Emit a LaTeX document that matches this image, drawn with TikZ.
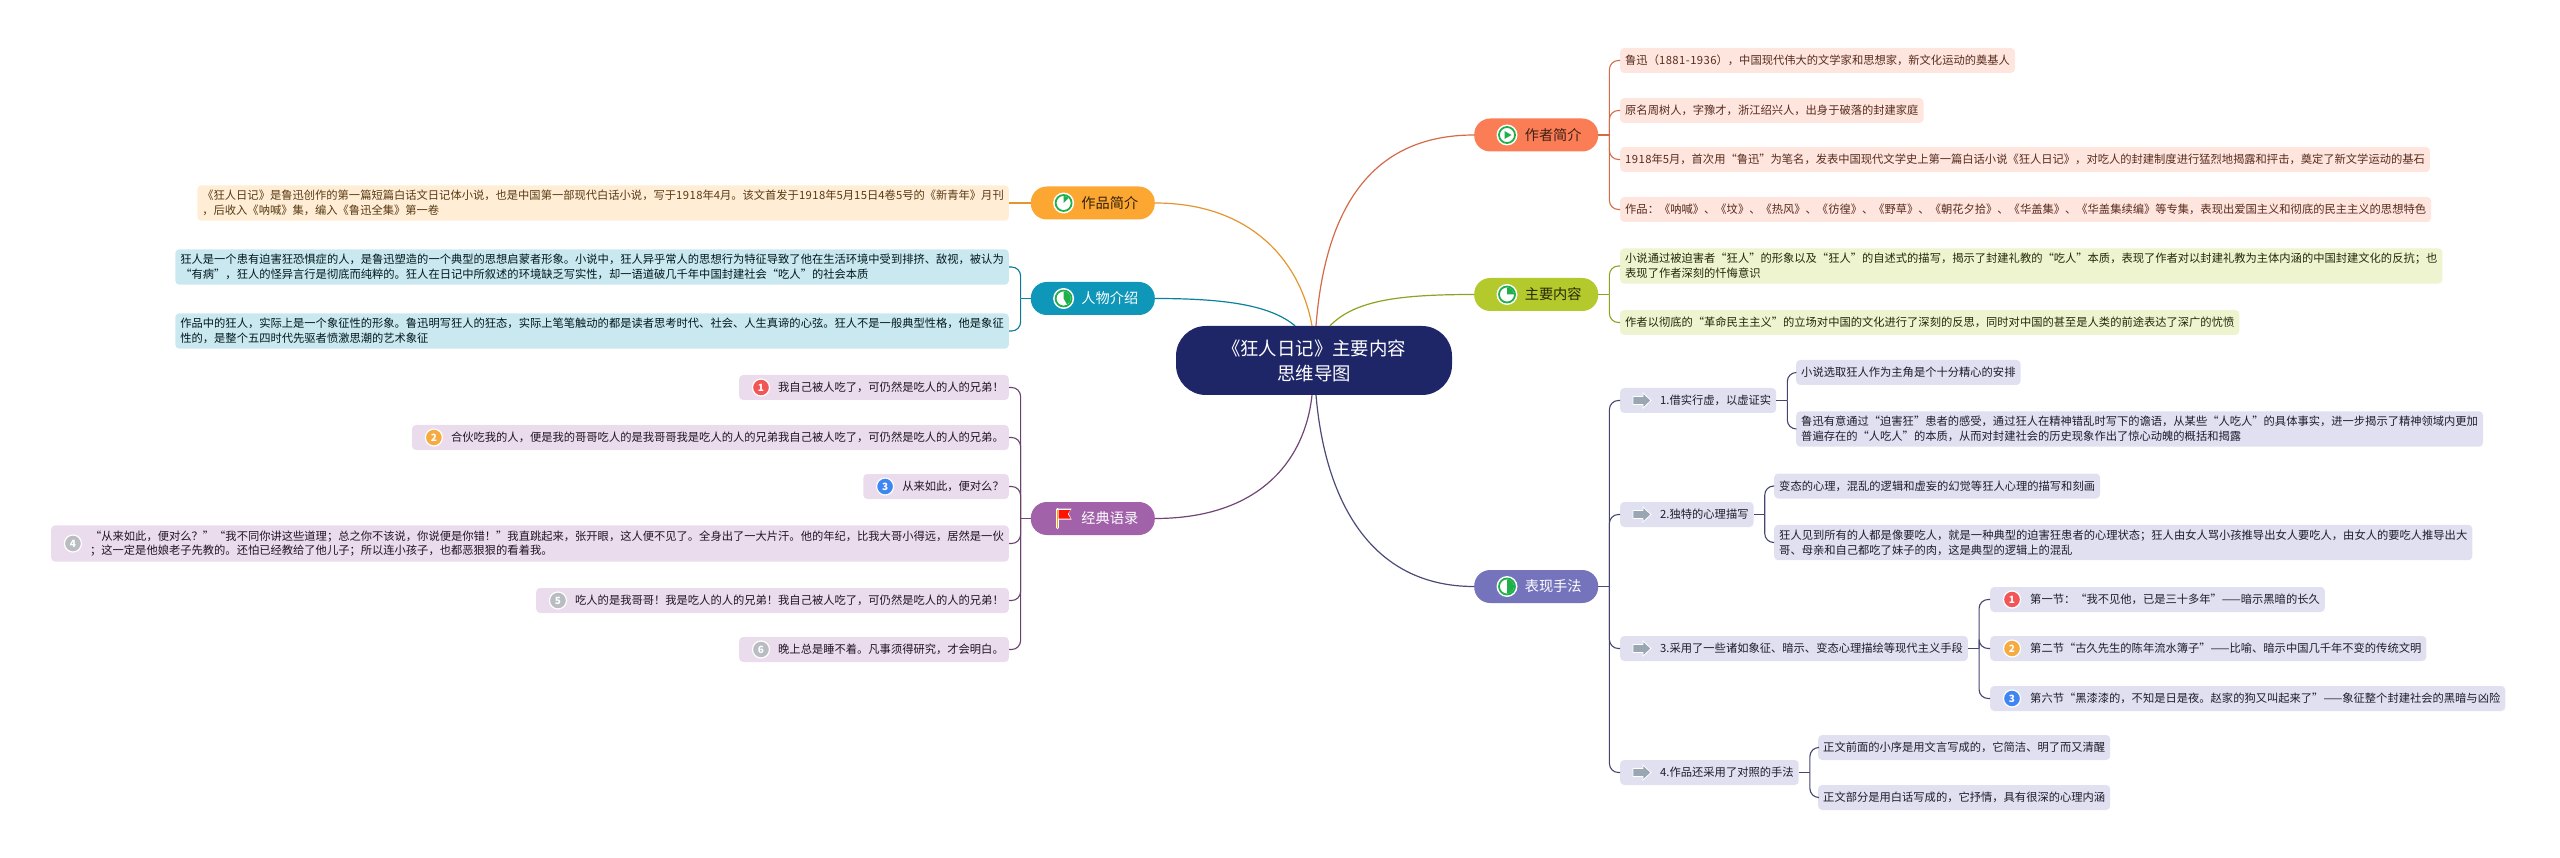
\documentclass[tikz,border=0pt]{standalone}
\usepackage{fontspec}
\setmainfont{Noto Sans CJK SC}
\newfontfamily\numfont[LetterSpace=4]{Noto Sans CJK SC}
\newcommand{\nm}[1]{{\numfont #1}}
\usepackage{xcolor}
\usepackage{tikz}
\usetikzlibrary{positioning}

\definecolor{rootblue}{HTML}{1F2668}
\definecolor{authorc}{HTML}{FB7D55}
\definecolor{contentc}{HTML}{B4C92B}
\definecolor{methodc}{HTML}{7473BB}
\definecolor{workc}{HTML}{FDA733}
\definecolor{personc}{HTML}{0F97B9}
\definecolor{quotec}{HTML}{A162A9}
\definecolor{taskgreen}{HTML}{1FAF4B}
\definecolor{pointerc}{HTML}{9AA6B1}
\definecolor{badgered}{HTML}{F25555}
\definecolor{badgeorange}{HTML}{F5AB42}
\definecolor{badgeblue}{HTML}{3F86F2}
\definecolor{badgegrey}{HTML}{B9BDC1}

\tikzset{
  pics/taskpie/.style={code={
    \begin{scope}[x=1pt,y=1pt]
      \fill[white] (0,0) circle (10.5);
      \draw[taskgreen,line width=1.8pt] (0,0) circle (8);
      \fill[taskgreen] (0,0) -- (0,7) arc (90:#1:7) -- cycle;
    \end{scope}
  }},
  pics/taskplay/.style={code={
    \begin{scope}[x=1pt,y=1pt]
      \fill[white] (0,0) circle (10.5);
      \draw[taskgreen,line width=1.8pt] (0,0) circle (8);
      \fill[taskgreen] (-2.5,4) -- (4.5,0) -- (-2.5,-4) -- cycle;
    \end{scope}
  }},
  pics/flagicon/.style={code={
    \begin{scope}[x=1pt,y=1pt]
      \draw[white,line width=3.5pt,line cap=round] (-6,9) -- (-6,-9);
      \fill[white] (-6,10) -- (8,10) -- (5,5) -- (8,-1) -- (-6,-1) -- cycle;
      \draw[orange!70!yellow,line width=1.4pt] (-6,9) -- (-6,-9);
      \fill[red!85!orange] (-5,8.5) -- (7,8.5) -- (4,4.5) -- (7,0) -- (-5,0) -- cycle;
    \end{scope}
  }},
  pics/pointer/.style={code={
    \begin{scope}[x=1pt,y=1pt]
      \filldraw[fill=pointerc,draw=white,line width=0.8pt] (-9,-4) -- (1,-4) -- (1,-7.5) -- (9,0) -- (1,7.5) -- (1,4) -- (-9,4) -- cycle;
    \end{scope}
  }}
}

\begin{document}
\begin{tikzpicture}[
    x=1pt,y=-1pt,
    root/.style={
      fill=rootblue, rounded corners=30pt, text=white, align=center,
      minimum width=276pt, minimum height=69pt, inner sep=0pt,
      font=\fontsize{18.4}{25}\selectfont
    },
    branch/.style={
      rounded corners=16pt, minimum width=124pt, minimum height=33pt, inner sep=0pt,
      font=\fontsize{14.2}{17}\selectfont
    },
    leaf/.style={
      rounded corners=4pt, minimum height=25pt, inner xsep=5pt, inner ysep=5pt,
      align=left, font=\fontsize{11.28}{14.7}\selectfont
    },
    authorleaf/.style={leaf, fill=authorc!20, text=authorc!35!black},
    contentleaf/.style={leaf, fill=contentc!22, text=contentc!20!black},
    methodleaf/.style={leaf, fill=methodc!22, text=methodc!25!black},
    workleaf/.style={leaf, fill=workc!20, text=workc!35!black},
    personleaf/.style={leaf, fill=personc!22, text=personc!15!black},
    quoteleaf/.style={leaf, fill=quotec!22, text=quotec!20!black},
    badge/.style={
      circle, draw=white, line width=1.2pt, minimum size=17pt, inner sep=0pt,
      text=white, font=\fontsize{10}{10}\selectfont\bfseries
    },
    link/.style={line width=1.2pt},
    fork/.style={line width=1.1pt, rounded corners=9pt}
]

  \useasboundingbox (0,0) rectangle (2560,858);

  % Define the centre
  \node[root] (center) at (1314,360.5) {《狂人日记》主要内容\\思维导图};

  % Main branches
  \node[branch, fill=authorc, text=black!75!authorc, anchor=west] (author) at (1474,135) {\hspace*{34pt}作者简介};
  \node[branch, fill=contentc, text=black!80!contentc, anchor=west] (content) at (1474,294.5) {\hspace*{34pt}主要内容};
  \node[branch, fill=methodc, text=white, anchor=west] (method) at (1474,586.5) {\hspace*{34pt}表现手法};
  \node[branch, fill=workc, text=black!80!workc, anchor=east] (work) at (1155,203) {\hspace*{34pt}作品简介};
  \node[branch, fill=personc, text=white, anchor=east] (person) at (1155,298.5) {\hspace*{34pt}人物介绍};
  \node[branch, fill=quotec, text=white, anchor=east] (quote) at (1155,518.5) {\hspace*{34pt}经典语录};

  % Branch icons
  \pic at ([xshift=33pt]author.west) {taskplay};
  \pic at ([xshift=33pt]content.west) {taskpie=0};
  \pic at ([xshift=33pt]method.west) {taskpie=-90};
  \pic at ([xshift=33pt]work.west) {taskpie=45};
  \pic at ([xshift=33pt]person.west) {taskpie=-60};
  \pic at ([xshift=33pt]quote.west) {flagicon};

  % Author leaves
  \node[authorleaf, anchor=west] (a1) at (1620,60.5) {鲁迅（\nm{1881-1936}），中国现代伟大的文学家和思想家，新文化运动的奠基人};
  \node[authorleaf, anchor=west] (a2) at (1620,110.5) {原名周树人，字豫才，浙江绍兴人，出身于破落的封建家庭};
  \node[authorleaf, anchor=west] (a3) at (1620,159.5) {\nm{1918}年\nm{5}月，首次用“鲁迅”为笔名，发表中国现代文学史上第一篇白话小说《狂人日记》，对吃人的封建制度进行猛烈地揭露和抨击，奠定了新文学运动的基石};
  \node[authorleaf, anchor=west] (a4) at (1620,209.5) {作品：《呐喊》、《坟》、《热风》、《彷徨》、《野草》、《朝花夕拾》、《华盖集》、《华盖集续编》等专集，表现出爱国主义和彻底的民主主义的思想特色};

  % Content leaves
  \node[contentleaf, anchor=west] (b1) at (1620,266) {小说通过被迫害者“狂人”的形象以及“狂人”的自述式的描写，揭示了封建礼教的“吃人”本质，表现了作者对以封建礼教为主体内涵的中国封建文化的反抗；也\\表现了作者深刻的忏悔意识};
  \node[contentleaf, anchor=west] (b2) at (1620,322.5) {作者以彻底的“革命民主主义”的立场对中国的文化进行了深刻的反思，同时对中国的甚至是人类的前途表达了深广的忧愤};

  % Method items
  \node[methodleaf, anchor=west] (c1) at (1620,400.5) {\hspace*{35pt}1.借实行虚，以虚证实};
  \node[methodleaf, anchor=west] (c2) at (1620,514.5) {\hspace*{35pt}2.独特的心理描写};
  \node[methodleaf, anchor=west] (c3) at (1620,648.5) {\hspace*{35pt}3.采用了一些诸如象征、暗示、变态心理描绘等现代主义手段};
  \node[methodleaf, anchor=west] (c4) at (1620,772.5) {\hspace*{35pt}4.作品还采用了对照的手法};

  \foreach \i in {1,2,3,4}
  \pic at ([xshift=22pt]c\i.west) {pointer};

  % Method leaves
  \node[methodleaf, anchor=west] (c1a) at (1796,372.5) {小说选取狂人作为主角是个十分精心的安排};
  \node[methodleaf, anchor=west] (c1b) at (1796,429) {鲁迅有意通过“迫害狂”患者的感受，通过狂人在精神错乱时写下的谵语，从某些“人吃人”的具体事实，进一步揭示了精神领域内更加\\普遍存在的“人吃人”的本质，从而对封建社会的历史现象作出了惊心动魄的概括和揭露};
  \node[methodleaf, anchor=west] (c2a) at (1774,486) {变态的心理，混乱的逻辑和虚妄的幻觉等狂人心理的描写和刻画};
  \node[methodleaf, anchor=west] (c2b) at (1774,542.5) {狂人见到所有的人都是像要吃人，就是一种典型的迫害狂患者的心理状态；狂人由女人骂小孩推导出女人要吃人，由女人的要吃人推导出大\\哥、母亲和自己都吃了妹子的肉，这是典型的逻辑上的混乱};
  \node[methodleaf, anchor=west] (c3a) at (1990,599.5) {\hspace*{35pt}第一节：“我不见他，已是三十多年”——暗示黑暗的长久};
  \node[methodleaf, anchor=west] (c3b) at (1990,648.5) {\hspace*{35pt}第二节“古久先生的陈年流水簿子”——比喻、暗示中国几千年不变的传统文明};
  \node[methodleaf, anchor=west] (c3c) at (1990,698.5) {\hspace*{35pt}第六节“黑漆漆的，不知是日是夜。赵家的狗又叫起来了”——象征整个封建社会的黑暗与凶险};
  \node[methodleaf, anchor=west] (c4a) at (1818,747.5) {正文前面的小序是用文言写成的，它简洁、明了而又清醒};
  \node[methodleaf, anchor=west] (c4b) at (1818,797.5) {正文部分是用白话写成的，它抒情，具有很深的心理内涵};

  \foreach \i/\c [count=\j] in {a/badgered,b/badgeorange,c/badgeblue}
  \node[badge, fill=\c] (num3\i) at ([xshift=22pt]c3\i.west) {\j};

  % Work and person leaves
  \node[workleaf, anchor=east] (d1) at (1009,203) {《狂人日记》是鲁迅创作的第一篇短篇白话文日记体小说，也是中国第一部现代白话小说，写于\nm{1918}年\nm{4}月。该文首发于\nm{1918}年\nm{5}月\nm{15}日\nm{4}卷\nm{5}号的《新青年》月刊\\，后收入《呐喊》集，编入《鲁迅全集》第一卷};
  \node[personleaf, anchor=east] (e1) at (1009,267) {狂人是一个患有迫害狂恐惧症的人，是鲁迅塑造的一个典型的思想启蒙者形象。小说中，狂人异乎常人的思想行为特征导致了他在生活环境中受到排挤、敌视，被认为\\“有病”，狂人的怪异言行是彻底而纯粹的。狂人在日记中所叙述的环境缺乏写实性，却一语道破几千年中国封建社会“吃人”的社会本质};
  \node[personleaf, anchor=east] (e2) at (1009,331) {作品中的狂人，实际上是一个象征性的形象。鲁迅明写狂人的狂态，实际上笔笔触动的都是读者思考时代、社会、人生真谛的心弦。狂人不是一般典型性格，他是象征\\性的，是整个五四时代先驱者愤激思潮的艺术象征};

  % Quote leaves
  \node[quoteleaf, anchor=east] (f1) at (1009,387.5) {\hspace*{34pt}我自己被人吃了，可仍然是吃人的人的兄弟！};
  \node[quoteleaf, anchor=east] (f2) at (1009,437.5) {\hspace*{34pt}合伙吃我的人，便是我的哥哥吃人的是我哥哥我是吃人的人的兄弟我自己被人吃了，可仍然是吃人的人的兄弟。};
  \node[quoteleaf, anchor=east] (f3) at (1009,486.5) {\hspace*{34pt}从来如此，便对么？};
  \node[quoteleaf, anchor=east] (f4) at (1009,543.5) {\hspace*{34pt}“从来如此，便对么？”“我不同你讲这些道理；总之你不该说，你说便是你错！”我直跳起来，张开眼，这人便不见了。全身出了一大片汗。他的年纪，比我大哥小得远，居然是一伙\\\hspace*{34pt}；这一定是他娘老子先教的。还怕已经教给了他儿子；所以连小孩子，也都恶狠狠的看着我。};
  \node[quoteleaf, anchor=east] (f5) at (1009,600.5) {\hspace*{34pt}吃人的是我哥哥！我是吃人的人的兄弟！我自己被人吃了，可仍然是吃人的人的兄弟！};
  \node[quoteleaf, anchor=east] (f6) at (1009,649.5) {\hspace*{34pt}晚上总是睡不着。凡事须得研究，才会明白。};

  \foreach \i/\c in {1/badgered,2/badgeorange,3/badgeblue,4/badgegrey,5/badgegrey,6/badgegrey}
  \node[badge, fill=\c] (num\i) at ([xshift=22pt]f\i.west) {\i};

  % Connections from the centre to the branches
  \draw[link, authorc!85!black] (author.west) .. controls (1370,135) and (1325,210) .. ([xshift=2pt]center.north);
  \draw[link, contentc!80!black] (content.west) .. controls (1400,294.5) and (1355,300) .. ([xshift=16pt]center.north);
  \draw[link, methodc!65!black] (method.west) .. controls (1370,586.5) and (1325,500) .. ([xshift=2pt]center.south);
  \draw[link, workc!90!black] (work.east) .. controls (1250,203) and (1300,260) .. ([xshift=-2pt]center.north);
  \draw[link, personc!85!black] (person.east) .. controls (1225,298.5) and (1270,305) .. ([xshift=-19pt]center.north);
  \draw[link, quotec!70!black] (quote.east) .. controls (1260,518.5) and (1305,460) .. ([xshift=-2pt]center.south);

  % Junctions next to the branches
  \coordinate[right=11pt of author.east] (ja);
  \coordinate[right=11pt of content.east] (jb);
  \coordinate[right=11pt of method.east] (jc);
  \coordinate[left=10pt of person.west] (je);
  \coordinate[left=10pt of quote.west] (jf);
  \coordinate[right=11pt of c1.east] (jc1);
  \coordinate[right=11pt of c2.east] (jc2);
  \coordinate[right=11pt of c3.east] (jc3);
  \coordinate[right=11pt of c4.east] (jc4);

  % Connections from the branches to the leaves
  \draw[link, authorc!85!black] (author.east) -- (ja);
  \foreach \i in {a1,a2,a3,a4}
  \draw[fork, authorc!85!black] (ja) |- (\i.west);

  \draw[link, contentc!80!black] (content.east) -- (jb);
  \foreach \i in {b1,b2}
  \draw[fork, contentc!80!black] (jb) |- (\i.west);

  \draw[link, methodc!65!black] (method.east) -- (jc);
  \foreach \i in {c1,c2,c3,c4}
  \draw[fork, methodc!60!black] (jc) |- (\i.west);

  \draw[link, workc!90!black] (work.west) -- (d1.east);

  \draw[link, personc!85!black] (person.west) -- (je);
  \foreach \i in {e1,e2}
  \draw[fork, personc!80!black] (je) |- (\i.east);

  \draw[link, quotec!70!black] (quote.west) -- (jf);
  \foreach \i in {f1,f2,f3,f4,f5,f6}
  \draw[fork, quotec!65!black] (jf) |- (\i.east);

  % Connections from the method items to their leaves
  \foreach \i in {1,2,4} {
    \draw[link, methodc!60!black] (c\i.east) -- (jc\i);
    \draw[fork, methodc!60!black] (jc\i) |- (c\i a.west);
    \draw[fork, methodc!60!black] (jc\i) |- (c\i b.west);
  }
  \draw[link, methodc!60!black] (c3.east) -- (jc3);
  \foreach \i in {a,b,c}
  \draw[fork, methodc!60!black] (jc3) |- (c3\i.west);

\end{tikzpicture}
\end{document}
